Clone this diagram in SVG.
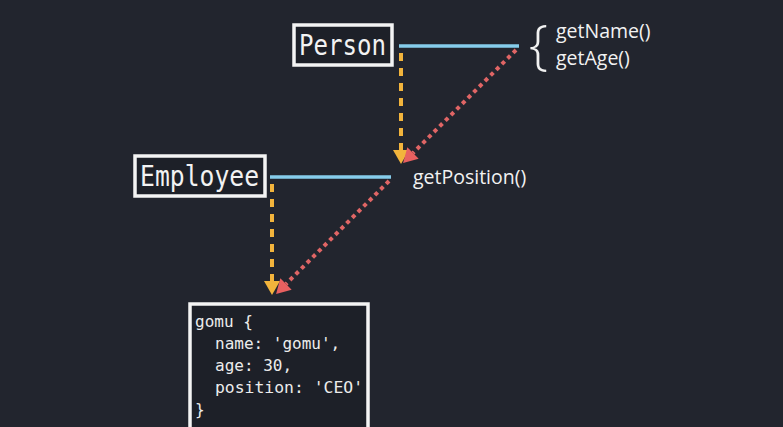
<svg xmlns="http://www.w3.org/2000/svg" width="783" height="427" viewBox="0 0 783 427">
<defs>
<style>
.bg{fill:#22252e}
.box{fill:#1d2028;stroke:#f4f4f4;stroke-width:3.5}
.cls{font-family:"DejaVu Sans Mono","Liberation Mono",monospace;font-size:28px;fill:#f2f2f2}
.code{font-family:"DejaVu Sans Mono","Liberation Mono",monospace;font-size:16px;fill:#ececec}
.lbl{font-family:"Open Sans","Noto Sans",sans-serif;font-size:19.5px;fill:#f2f2f2}
.link{stroke:#86cdeb;stroke-width:3.5;fill:none}
.proto{stroke:#f2b43c;stroke-width:4;stroke-dasharray:8 7;fill:none}
.chain{stroke:#e06565;stroke-width:4;stroke-dasharray:4 4;fill:none}
</style>
<marker id="ao" viewBox="0 0 14 16" refX="0" refY="8" markerWidth="14" markerHeight="16" markerUnits="userSpaceOnUse" orient="auto"><path d="M0,0 L14,8 L0,16 Z" fill="#f2b43c"/></marker>
<marker id="ar" viewBox="0 0 14 16" refX="0" refY="8" markerWidth="14" markerHeight="16" markerUnits="userSpaceOnUse" orient="auto"><path d="M0,0 L14,8 L0,16 Z" fill="#e86060"/></marker>
</defs>
<rect class="bg" x="0" y="0" width="783" height="427"/>
<g id="connectors">
<line class="link" x1="399" y1="46" x2="519" y2="46"/>
<line class="link" x1="270" y1="177" x2="391" y2="177"/>
<line class="proto" x1="401" y1="53" x2="401" y2="150" marker-end="url(#ao)"/>
<line class="chain" x1="516" y1="50" x2="413" y2="153" marker-end="url(#ar)"/>
<line class="proto" x1="272" y1="184" x2="272" y2="281" marker-end="url(#ao)"/>
<line class="chain" x1="389" y1="181" x2="286" y2="284" marker-end="url(#ar)"/>
</g>
<g id="person">
<rect class="box" x="294" y="25" width="98" height="40"/>
<text class="cls" x="299" y="55" textLength="87" lengthAdjust="spacingAndGlyphs">Person</text>
</g>
<g id="person-methods">
<text class="lbl" x="529" y="63" style="font-size:54px;font-weight:300">{</text>
<text class="lbl" x="556" y="38">getName()</text>
<text class="lbl" x="556" y="65">getAge()</text>
</g>
<g id="employee">
<rect class="box" x="135" y="156" width="130" height="40"/>
<text class="cls" x="140" y="186" textLength="119" lengthAdjust="spacingAndGlyphs">Employee</text>
</g>
<g id="employee-methods">
<text class="lbl" x="413" y="184">getPosition()</text>
</g>
<g id="gomu">
<rect class="box" x="190" y="304" width="178" height="130"/>
<text class="code" x="195" y="327">gomu {</text>
<text class="code" x="215" y="349">name: 'gomu',</text>
<text class="code" x="215" y="371">age: 30,</text>
<text class="code" x="215" y="393" textLength="148" lengthAdjust="spacingAndGlyphs">position: 'CEO'</text>
<text class="code" x="195" y="415">}</text>
</g>
</svg>
